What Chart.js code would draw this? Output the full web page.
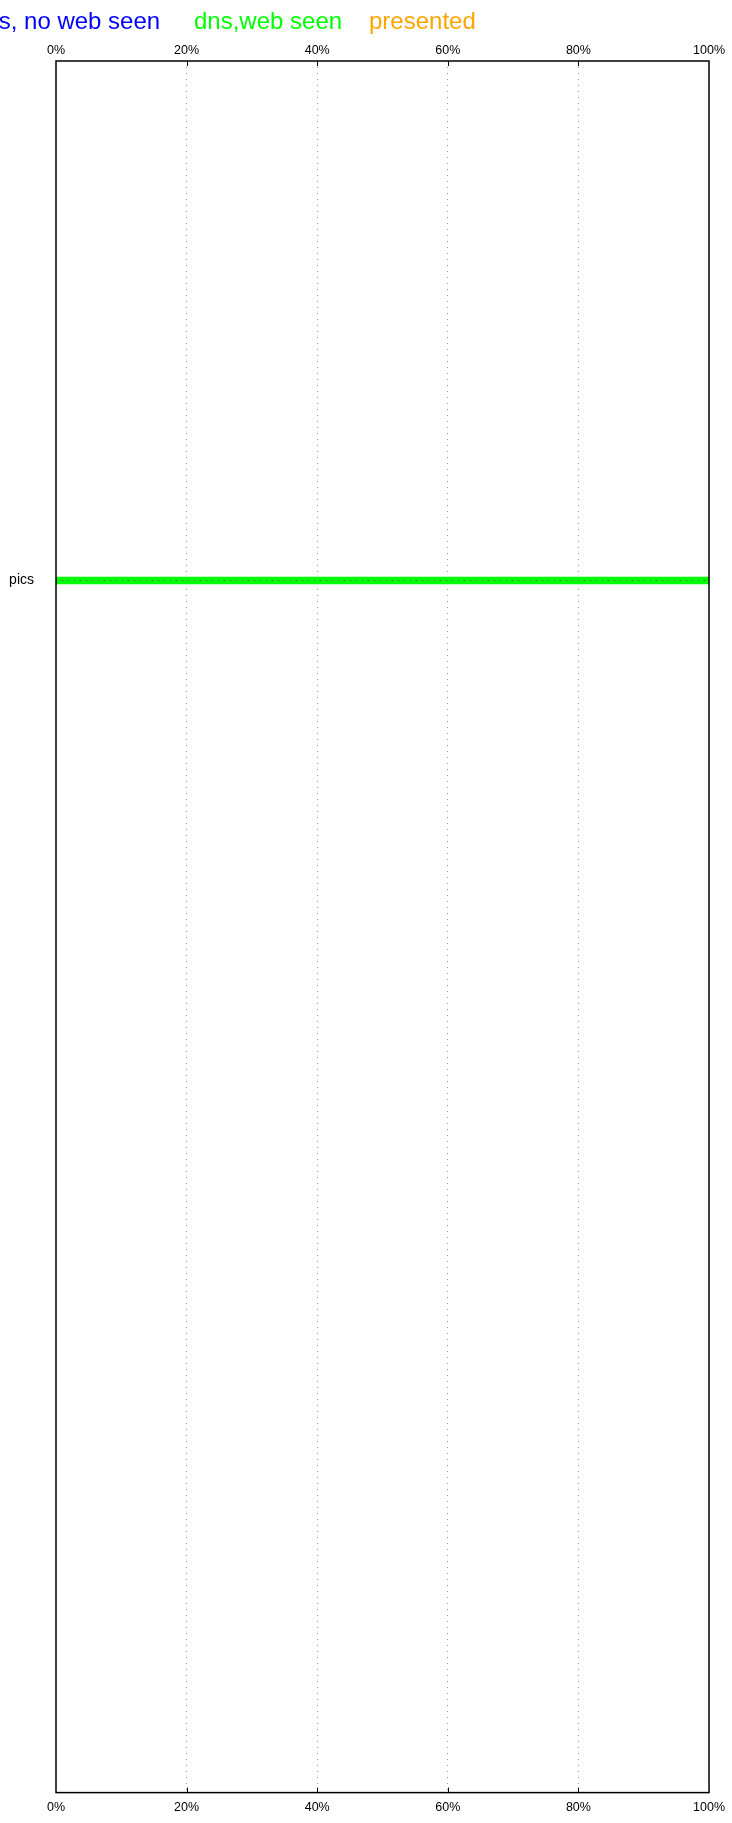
<!DOCTYPE html>
<html>
<head>
<meta charset="utf-8">
<script src="https://cdn.jsdelivr.net/npm/chart.js@4.4.1/dist/chart.umd.min.js"></script>
<style>
  body { margin: 0; background: #fff; overflow: hidden; }
  #wrap { position: relative; width: 732px; height: 1823px; overflow: hidden; }
  #myChart { position: absolute; left: 0; top: 0; }
  #legend span { position: absolute; top: 9px; font: 24px "Liberation Sans", Arial, sans-serif; line-height: 24px; white-space: nowrap; }
</style>
</head>
<body>
<div id="wrap">
  <canvas id="myChart" width="732" height="1823"></canvas>
  <div id="legend"></div>
</div>
<script>
// filas del eje y (solo "pics" tiene datos)
const rows = ["", "pics", "", "", ""];
const seriesNames = ["dns, no web seen", "dns,web seen", "presented"];
const seriesColors = ["#0000ff", "#00ff00", "#ffa500"];
const noWebSeen = [null, 0, null, null, null];
const webSeen = [null, 100, null, null, null];
const presented = [null, 0, null, null, null];
const xTicks = [0, 20, 40, 60, 80, 100];

// leyenda como texto (recortada a la izquierda como en el original)
const legendLeft = [-28, 194, 369];
const legendDiv = document.getElementById("legend");
seriesNames.forEach((name, i) => {
  const s = document.createElement("span");
  s.textContent = name;
  s.style.color = seriesColors[i];
  s.style.left = legendLeft[i] + "px";
  legendDiv.appendChild(s);
});

Chart.defaults.font.family = '"Liberation Sans", Arial, sans-serif';
Chart.defaults.color = "#000";

// marco negro y marcas interiores
const frame = {
  id: "frame",
  afterDraw(chart) {
    const { ctx, chartArea: a, scales } = chart;
    ctx.save();
    ctx.strokeStyle = "#000";
    ctx.lineWidth = 1.5;
    ctx.strokeRect(a.left, a.top, a.right - a.left, a.bottom - a.top);
    ctx.lineWidth = 1;
    xTicks.slice(1, -1).forEach((v) => {
      const px = Math.round(scales.x.getPixelForValue(v)) + 0.5;
      ctx.beginPath();
      ctx.moveTo(px, a.top);
      ctx.lineTo(px, a.top + 5);
      ctx.moveTo(px, a.bottom);
      ctx.lineTo(px, a.bottom - 5);
      ctx.stroke();
    });
    ctx.restore();
  },
};

const pct = (v) => v + "%";
const gridColor = (c) =>
  c.tick && (c.tick.value === xTicks[0] || c.tick.value === xTicks[xTicks.length - 1])
    ? "rgba(0,0,0,0)"
    : "#9a9a9a";

const seriesData = [noWebSeen, webSeen, presented];
const ctx = document.getElementById("myChart").getContext("2d");
const myChart = new Chart(ctx, {
  type: "bar",
  data: {
    labels: rows,
    datasets: seriesNames.map((name, i) => ({
      label: name,
      data: seriesData[i],
      backgroundColor: seriesColors[i],
      borderWidth: 0,
      barThickness: 7,
      xAxisID: "x",
      yAxisID: "y",
    })),
  },
  options: {
    indexAxis: "y",
    responsive: false,
    animation: false,
    layout: { padding: { left: 0, right: 21, top: 0, bottom: 0 } },
    plugins: { legend: { display: false }, tooltip: { enabled: false } },
    scales: {
      x: {
        position: "bottom",
        stacked: true,
        min: xTicks[0],
        max: xTicks[xTicks.length - 1],
        ticks: { stepSize: 20, callback: pct, padding: 7, maxRotation: 0, font: { size: 12.5 } },
        grid: { drawTicks: false, color: gridColor, lineWidth: 1 },
        border: { display: false, dash: [1, 5] },
        afterFit: (s) => { s.height = 22; },
      },
      x2: {
        position: "top",
        min: xTicks[0],
        max: xTicks[xTicks.length - 1],
        ticks: { stepSize: 20, callback: pct, padding: 3, maxRotation: 0, font: { size: 12.5 } },
        grid: { display: false, drawTicks: false },
        border: { display: false },
        afterFit: (s) => { s.height = 61; },
      },
      y: {
        stacked: true,
        ticks: { padding: 22, font: { size: 14 } },
        grid: {
          offset: false,
          z: 1,
          drawTicks: false,
          color: (c) => (rows[c.index] ? "#555" : "rgba(0,0,0,0)"),
        },
        border: { display: false, dash: [1, 5] },
        afterFit: (s) => { s.width = 56; },
      },
    },
  },
  plugins: [frame],
});
</script>
</body>
</html>
